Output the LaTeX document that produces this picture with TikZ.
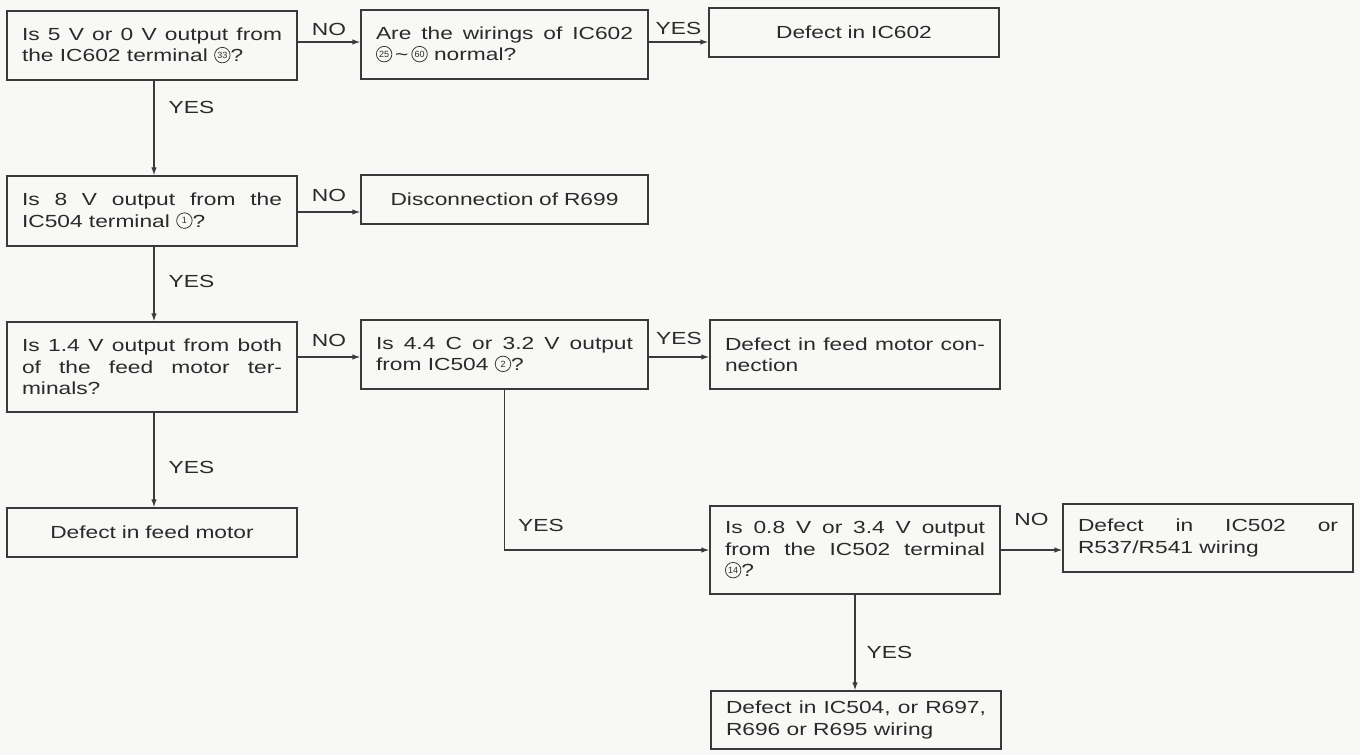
\documentclass[tikz,border=0pt]{standalone}
\usepackage{fontspec}
\setmainfont{Liberation Sans}
\newfontfamily\boxfont[FakeStretch=1.3]{Liberation Sans}
\newfontfamily\cfont{Liberation Sans}
\usetikzlibrary{arrows.meta}
\tolerance=10000
\hyphenpenalty=10000
\definecolor{ink}{HTML}{2A2A2A}
\definecolor{linec}{HTML}{3A3A3A}
\definecolor{paper}{HTML}{F8F8F6}
\newcommand{\cnum}[1]{\tikz[baseline=-6.8pt]\node[draw=linec,line width=0.8pt,circle,inner sep=0pt,minimum size=15.5pt,text width={},align=center,font=\cfont\fontsize{9}{9}\selectfont] (cn) at (0,0) {#1};}
\begin{document}
\begin{tikzpicture}[x=1pt,y=-1pt,
  box/.style={draw=linec,line width=1.3pt,text=ink,rectangle,
    font=\boxfont\fontsize{17.5}{21.5}\selectfont,inner xsep=15pt,inner ysep=3pt},
  jbox/.style={box,align=justify},
  cbox/.style={box,align=center},
  lbl/.style={text=ink,font=\boxfont\fontsize{17.5}{21.5}\selectfont,inner sep=0pt},
  arr/.style={draw=linec,line width=1.3pt,-{Latex[length=8pt,width=5.5pt]}}]
\fill[paper] (0,0) rectangle (1360,755);
\useasboundingbox (0,0) rectangle (1360,755);

% boxes
\node[jbox,text width=260pt,minimum height=69pt] (b1) at (152,45.5)
  {Is 5 V or 0 V output from\linebreak the IC602 terminal \cnum{33}?};
\node[jbox,text width=257pt,minimum height=69pt] (b2) at (504.5,44.5)
  {Are the wirings of IC602\linebreak \cnum{25}\,\textasciitilde\,\cnum{60} normal?};
\node[cbox,text width=260pt,minimum height=49pt] (b3) at (854,32.5)
  {Defect in IC602};
\node[jbox,text width=260pt,minimum height=70pt] (b4) at (152,211)
  {Is 8 V output from the\linebreak IC504 terminal \cnum{1}?};
\node[cbox,text width=257pt,minimum height=49pt] (b5) at (504.5,199.5)
  {Disconnection of R699};
\node[jbox,text width=260pt,minimum height=90pt] (b6) at (152,367)
  {Is 1.4 V output from both\linebreak of the feed motor ter-\linebreak minals?};
\node[jbox,text width=257pt,minimum height=69pt] (b7) at (504.5,354.5)
  {Is 4.4 C or 3.2 V output\linebreak from IC504 \cnum{2}?};
\node[jbox,text width=260pt,minimum height=69pt] (b8) at (855,354.5)
  {Defect in feed motor con-\linebreak nection};
\node[jbox,text width=260pt,minimum height=88pt] (b9) at (855,550)
  {Is 0.8 V or 3.4 V output\linebreak from the IC502 terminal\linebreak \cnum{14}?};
\node[jbox,text width=260pt,minimum height=68pt] (b10) at (1208,538)
  {Defect in IC502 or\linebreak R537/R541 wiring};
\node[jbox,text width=260pt,minimum height=58pt] (b11) at (856,720)
  {Defect in IC504, or R697,\linebreak R696 or R695 wiring};
\node[cbox,text width=260pt,minimum height=49pt] (b12) at (152,532.5)
  {Defect in feed motor};

% helper coordinates
\coordinate (xL) at (154,0);
\coordinate (yA) at (0,42);
\coordinate (yB) at (0,212);
\coordinate (yC) at (0,357);

% connectors
\draw[arr] (b1.east |- yA) -- node[lbl,above=6pt] (n1) {NO} (b2.west |- yA);
\draw[arr] (b2.east |- yA) -- node[lbl,above=7pt] (y1) {YES} (b3.west |- yA);
\draw[arr] (b4.east |- yB) -- node[lbl,above=10pt] (n2) {NO} (b5.west |- yB);
\draw[arr] (b6.east |- yC) -- node[lbl,above=10pt] (n3) {NO} (b7.west |- yC);
\draw[arr] (b7.east |- yC) -- node[lbl,above=12pt] (y2) {YES} (b8.west |- yC);
\draw[arr] (b9.east) -- node[lbl,above=24pt] (n4) {NO} (b10.west |- b9.east);

\draw[arr] (b1.south -| xL) -- node[lbl,pos=0.28,right=14pt] (y3) {YES} (b4.north -| xL);
\draw[arr] (b4.south -| xL) -- node[lbl,pos=0.47,right=14pt] (y4) {YES} (b6.north -| xL);
\draw[arr] (b6.south -| xL) -- node[lbl,pos=0.58,right=14pt] (y5) {YES} (b12.north -| xL);
\draw[arr] (b9.south) -- node[lbl,pos=0.6,right=11pt] (y6) {YES} (b11.north -| b9.south);
\draw[arr] (b7.south) |- node[lbl,pos=0.5,anchor=south west,xshift=13pt,yshift=18pt] (y7) {YES} (b9.west);
\end{tikzpicture}
\end{document}
